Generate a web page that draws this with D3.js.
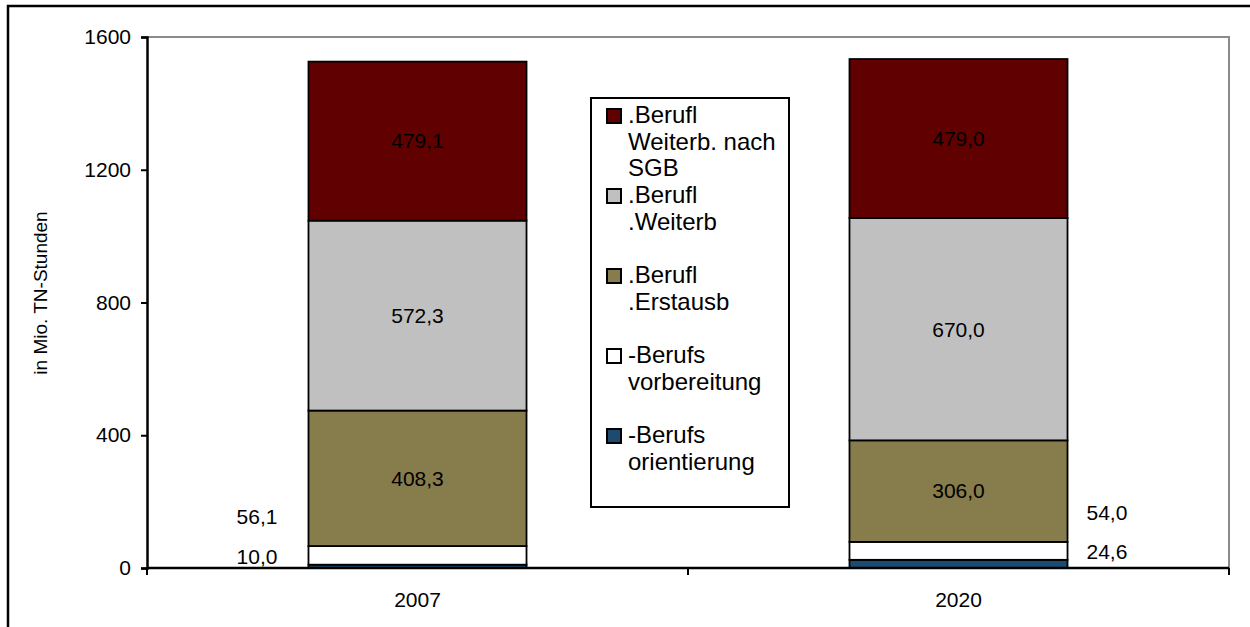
<!DOCTYPE html>
<html>
<head>
<meta charset="utf-8">
<script src="https://cdn.jsdelivr.net/npm/d3@7"></script>
<style>
  body { margin: 0; background: #fff; }
  text { font-family: "Liberation Sans", Arial, sans-serif; fill: #000; }
</style>
</head>
<body>
<div id="chart"></div>
<script>
var years = ["2007", "2020"];
var seriesKeys = ["orient", "vorber", "erst", "weiterb", "sgb"];
var orientierung = [10.0, 24.6];
var vorbereitung = [56.1, 54.0];
var erstausb = [408.3, 306.0];
var weiterb = [572.3, 670.0];
var sgb = [479.1, 479.0];
var yTicks = [0, 400, 800, 1200, 1600];
// legend lines, top item first
var legendLabels = [
    [".Berufl", "Weiterb. nach", "SGB"],
    [".Berufl", ".Weiterb"],
    [".Berufl", ".Erstausb"],
    ["-Berufs", "vorbereitung"],
    ["-Berufs", "orientierung"]
];
var legendKeys = ["sgb", "weiterb", "erst", "vorber", "orient"];

var colors = {
    orient: "#1b4b70",
    vorber: "#ffffff",
    erst: "#877c4b",
    weiterb: "#c0c0c0",
    sgb: "#600000"
};

var svgW = 1250, svgH = 627;
var margin = { left: 147, right: 21, top: 37, bottom: 59 };
var chartW = svgW - margin.left - margin.right;
var chartH = svgH - margin.top - margin.bottom;

var svg = d3.select("#chart").append("svg")
    .attr("width", svgW)
    .attr("height", svgH);

// outer frame
svg.append("rect")
    .attr("x", 8).attr("y", 6)
    .attr("width", 1260).attr("height", 640)
    .attr("fill", "none")
    .attr("stroke", "#000")
    .attr("stroke-width", 2.5);

var g = svg.append("g")
    .attr("transform", `translate(${margin.left}, ${margin.top})`);

var table = years.map((y, i) => ({
    year: y,
    orient: orientierung[i],
    vorber: vorbereitung[i],
    erst: erstausb[i],
    weiterb: weiterb[i],
    sgb: sgb[i]
}));

var stacked = d3.stack().keys(seriesKeys)(table);

var xScale = d3.scaleBand()
    .domain(years)
    .range([0, chartW])
    .paddingInner(0.597)
    .paddingOuter(0.2985);

var yScale = d3.scaleLinear()
    .domain([0, 1600])
    .range([chartH, 0]);

var fmt = d3.formatLocale({ decimal: ",", thousands: ".", grouping: [3], currency: ["", " €"] }).format(".1f");

// plot frame (top and right in gray)
g.append("path")
    .attr("d", `M0,0H${chartW}V${chartH}`)
    .attr("fill", "none")
    .attr("stroke", "#8a8a8a")
    .attr("stroke-width", 2);

// bars
stacked.forEach(s => {
    g.selectAll(null)
        .data(s)
        .enter()
        .append("rect")
        .attr("x", d => xScale(d.data.year))
        .attr("y", d => yScale(d[1]))
        .attr("width", xScale.bandwidth())
        .attr("height", d => yScale(d[0]) - yScale(d[1]))
        .attr("fill", colors[s.key])
        .attr("stroke", "#000")
        .attr("stroke-width", 1.8);
});

// value labels
stacked.forEach((s, si) => {
    s.forEach((d, i) => {
        var val = d[1] - d[0];
        var t = g.append("text")
            .attr("font-size", 21)
            .attr("dy", "0.35em")
            .text(fmt(val));
        if (si >= 2) {
            t.attr("x", xScale(d.data.year) + xScale.bandwidth() / 2)
                .attr("y", (yScale(d[0]) + yScale(d[1])) / 2)
                .attr("text-anchor", "middle");
        } else {
            var off = si === 0 ? 8 : 29;
            if (i === 0) {
                t.attr("x", xScale(d.data.year) - 31).attr("text-anchor", "end");
            } else {
                t.attr("x", xScale(d.data.year) + xScale.bandwidth() + 19).attr("text-anchor", "start");
            }
            t.attr("y", yScale(d[1]) - off);
        }
    });
});

// y axis
var yAxis = g.append("g")
    .call(d3.axisLeft(yScale).tickValues(yTicks).tickFormat(d3.format("d")).tickSize(6).tickPadding(10));
yAxis.select(".domain").attr("stroke", "#000").attr("stroke-width", 2.5);
yAxis.selectAll(".tick line").attr("stroke", "#000").attr("stroke-width", 2);
yAxis.selectAll(".tick text")
    .attr("font-size", 21)
    .attr("font-family", "Liberation Sans, Arial, sans-serif");

// x axis: ticks at category boundaries
var xAxisG = g.append("g").attr("transform", `translate(0, ${chartH})`);
xAxisG.append("line")
    .attr("x1", 0).attr("x2", chartW)
    .attr("stroke", "#000").attr("stroke-width", 2.5);
[0, chartW / 2, chartW].forEach(x => {
    xAxisG.append("line")
        .attr("x1", x).attr("x2", x)
        .attr("y1", 0).attr("y2", 7)
        .attr("stroke", "#000").attr("stroke-width", 2);
});
years.forEach(y => {
    xAxisG.append("text")
        .attr("x", xScale(y) + xScale.bandwidth() / 2)
        .attr("y", 39)
        .attr("text-anchor", "middle")
        .attr("font-size", 21)
        .text(y);
});

// axis title
svg.append("text")
    .attr("transform", "translate(47, 293) rotate(-90)")
    .attr("text-anchor", "middle")
    .attr("font-size", 19)
    .text("in Mio. TN-Stunden");

// legend
var legend = svg.append("g").attr("transform", "translate(591, 98)");
legend.append("rect")
    .attr("width", 198).attr("height", 409)
    .attr("fill", "#fff")
    .attr("stroke", "#000")
    .attr("stroke-width", 2);

legendKeys.forEach((k, i) => {
    var base = 25 + i * 80;
    legend.append("rect")
        .attr("x", 16).attr("y", base - 14)
        .attr("width", 14).attr("height", 14)
        .attr("fill", colors[k])
        .attr("stroke", "#000")
        .attr("stroke-width", 2);
    legendLabels[i].forEach((line, j) => {
        legend.append("text")
            .attr("x", 37)
            .attr("y", base + j * 26.5)
            .attr("font-size", 24)
            .text(line);
    });
});
</script>
</body>
</html>
